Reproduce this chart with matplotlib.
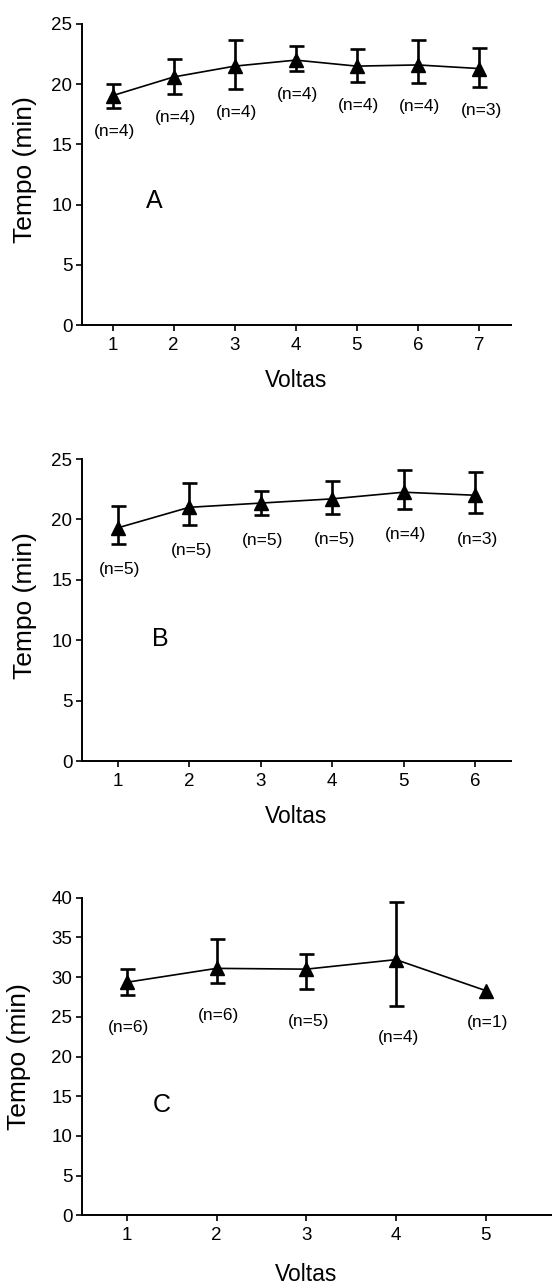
import numpy as np
import matplotlib
matplotlib.use("Agg")
import matplotlib.pyplot as plt

plt.rcParams['font.family'] = ['Liberation Sans', 'DejaVu Sans']

# --- mean lap time per lap, with lower/upper error bar lengths ---
voltas_a = [1, 2, 3, 4, 5, 6, 7]
tempo_a = [19.05, 20.6, 21.5, 22.0, 21.5, 21.6, 21.3]
err_lo_a = [1.0, 1.4, 1.9, 0.9, 1.3, 1.5, 1.55]
err_hi_a = [1.0, 1.5, 2.15, 1.15, 1.4, 2.05, 1.7]
n_a = [4, 4, 4, 4, 4, 4, 3]

voltas_b = [1, 2, 3, 4, 5, 6]
tempo_b = [19.3, 21.0, 21.35, 21.7, 22.25, 22.0]
err_lo_b = [1.34, 1.44, 0.99, 1.25, 1.41, 1.5]
err_hi_b = [1.78, 2.0, 1.0, 1.48, 1.85, 1.9]
n_b = [5, 5, 5, 5, 4, 3]

voltas_c = [1, 2, 3, 4, 5]
tempo_c = [29.35, 31.1, 31.0, 32.2, 28.3]
err_lo_c = [1.65, 1.9, 2.54, 5.84, 0.0]
err_hi_c = [1.65, 3.7, 1.87, 7.2, 0.0]
n_c = [6, 6, 5, 4, 1]

W, H = 552, 1285
fig = plt.figure(figsize=(W / 100, H / 100), dpi=100)


def px_axes(left, right, top, bottom):
    return fig.add_axes([left / W, 1 - bottom / H, (right - left) / W, (bottom - top) / H])


def panel(ax, x, y, lo, hi, n, letter, letter_pos, xlim, ylim, yticks, n_off, xlab_x, ylab_y):
    x = np.asarray(x, float)
    y = np.asarray(y, float)
    lo = np.asarray(lo, float)
    hi = np.asarray(hi, float)
    n = np.asarray(n)

    ax.plot(x, y, color="black", lw=1.2, zorder=2)
    has_err = n > 1
    ax.errorbar(x[has_err], y[has_err], yerr=[lo[has_err], hi[has_err]], fmt="none",
                ecolor="black", elinewidth=1.9, capsize=5.4, capthick=1.9, zorder=3)
    ax.plot(x, y, ls="none", marker="^", ms=9.5, color="black", zorder=4)

    for xi, yi, li, ni in zip(x, y, lo, n):
        ax.annotate(f"(n={ni})", (xi, yi - li), xytext=(1.5, -n_off), textcoords="offset points",
                    ha="center", va="center", fontsize=12.5)

    ax.text(letter_pos[0], letter_pos[1], letter, fontsize=18, ha="center", va="center")

    ax.set_xlim(*xlim)
    ax.set_ylim(*ylim)
    ax.set_yticks(yticks)
    ax.set_xticks(x)
    ax.spines[["top", "right"]].set_visible(False)
    for s in ("left", "bottom"):
        ax.spines[s].set_linewidth(1.4)
    ax.tick_params(length=4.5, width=1.2, labelsize=13.5, direction="out")
    ax.tick_params(axis="x", pad=4)
    ax.tick_params(axis="y", pad=2.5)

    ax.set_ylabel("Tempo (min)", fontsize=19, va="center")
    ax.yaxis.set_label_coords(-0.133, ylab_y)
    ax.set_xlabel("Voltas", fontsize=16.5, va="center")
    ax.xaxis.set_label_coords(xlab_x, -0.185)


ax_a = px_axes(82, 510.7, 24, 325)
panel(ax_a, voltas_a, tempo_a, err_lo_a, err_hi_a, n_a, "A", (1.68, 10.3),
      (0.5, 7.52), (0, 25), [0, 5, 10, 15, 20, 25], 17, 0.499, 0.515)

ax_b = px_axes(82, 510.7, 459, 761)
panel(ax_b, voltas_b, tempo_b, err_lo_b, err_hi_b, n_b, "B", (1.59, 10.07),
      (0.5, 6.5), (0, 25), [0, 5, 10, 15, 20, 25], 18.5, 0.499, 0.515)

ax_c = px_axes(82, 552, 897.7, 1215.3)
panel(ax_c, voltas_c, tempo_c, err_lo_c, err_hi_c, n_c, "C", (1.39, 13.9),
      (0.5, 5.74), (0, 40), [0, 5, 10, 15, 20, 25, 30, 35, 40], 23, 0.477, 0.5)

fig.savefig("out.png", dpi=100)
